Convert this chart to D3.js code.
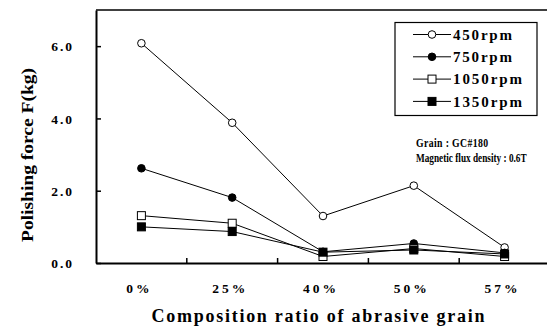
<!DOCTYPE html>
<html>
<head>
<meta charset="utf-8">
<script src="https://cdn.jsdelivr.net/npm/d3@7"></script>
<style>
  body { margin: 0; background: #fff; }
  text { font-family: "Liberation Serif", "Times New Roman", serif; font-weight: bold; fill: #000; }
</style>
</head>
<body>
<svg id="chart"></svg>
<script>
// composition ratio categories
var categories = ["0%", "25%", "40%", "50%", "57%"];

// polishing force (kg) per spindle speed
var rpm450  = [6.08, 3.88, 1.30, 2.14, 0.43];
var rpm750  = [2.62, 1.81, 0.31, 0.54, 0.28];
var rpm1050 = [1.31, 1.10, 0.18, 0.40, 0.18];
var rpm1350 = [1.00, 0.87, 0.30, 0.36, 0.25];

var seriesNames = ["450rpm", "750rpm", "1050rpm", "1350rpm"];
var yTicks = [0, 2, 4, 6];

var series = [
  {name: seriesNames[0], values: rpm450,  shape: "circle", fill: "#fff"},
  {name: seriesNames[1], values: rpm750,  shape: "circle", fill: "#000"},
  {name: seriesNames[2], values: rpm1050, shape: "square", fill: "#fff"},
  {name: seriesNames[3], values: rpm1350, shape: "square", fill: "#000"}
];

var screen = {width: 547, height: 331};
var margins = {top: 10, left: 96, bottom: 68, right: -3};

var svg = d3.select("#chart")
    .attr("width", screen.width)
    .attr("height", screen.height);

var xScale = d3.scaleBand()
    .domain(categories)
    .range([margins.left, screen.width - margins.right])
    .padding(0);

var yScale = d3.scaleLinear()
    .domain([0, 7])
    .range([screen.height - margins.bottom, margins.top]);

var cx = function(i) { return xScale(categories[i]) + xScale.bandwidth() / 2; };

// frame: top border
svg.append("line")
    .attr("x1", margins.left).attr("x2", screen.width)
    .attr("y1", yScale(7)).attr("y2", yScale(7))
    .style("stroke", "#000").style("stroke-width", 1.5);

// y axis
var yAxis = svg.append("g")
    .attr("transform", "translate(" + margins.left + ",0)")
    .call(d3.axisLeft(yScale).tickValues(yTicks).tickFormat(d3.format(".1f"))
        .tickSizeInner(-5).tickSizeOuter(0).tickPadding(22));
yAxis.select(".domain").style("stroke-width", 2);
yAxis.selectAll(".tick line").style("stroke-width", 1.5);
yAxis.selectAll("text")
    .style("font-size", "13.5px")
    .style("letter-spacing", "2px")
    .attr("dy", "0.35em");

// x axis
var xAxis = svg.append("g")
    .attr("transform", "translate(0," + yScale(0) + ")")
    .call(d3.axisBottom(xScale).tickSize(0).tickPadding(20));
xAxis.select(".domain").style("stroke-width", 2);
xAxis.selectAll("text")
    .style("font-size", "13.5px")
    .style("letter-spacing", "3px")
    .attr("dx", "-2")
    .attr("dy", "0.71em");

// x boundary ticks pointing inside
svg.selectAll(".xbound")
    .data(categories.slice(1))
    .enter()
    .append("line")
    .attr("class", "xbound")
    .attr("x1", function(d) { return xScale(d); })
    .attr("x2", function(d) { return xScale(d); })
    .attr("y1", yScale(0))
    .attr("y2", yScale(0) - 5)
    .style("stroke", "#000").style("stroke-width", 1.5);

// axis titles
svg.append("text")
    .attr("x", 318).attr("y", 322)
    .attr("text-anchor", "middle")
    .attr("textLength", 333)
    .attr("lengthAdjust", "spacing")
    .style("font-size", "18px")
    .text("Composition ratio of abrasive grain");

svg.append("text")
    .attr("transform", "translate(33,155) rotate(-90)")
    .attr("text-anchor", "middle")
    .attr("textLength", 174)
    .attr("lengthAdjust", "spacingAndGlyphs")
    .style("font-size", "16px")
    .text("Polishing force F(kg)");

var line = d3.line()
    .x(function(d, i) { return cx(i); })
    .y(function(d) { return yScale(d); });

var drawMarker = function(g, s, x, y) {
  if (s.shape == "circle") {
    g.append("circle")
      .attr("cx", x).attr("cy", y).attr("r", 3.8)
      .style("fill", s.fill).style("stroke", "#000").style("stroke-width", 1);
  } else {
    g.append("rect")
      .attr("x", x - 4).attr("y", y - 4).attr("width", 8).attr("height", 8)
      .style("fill", s.fill).style("stroke", "#000").style("stroke-width", 1);
  }
};

// lines first, then markers on top
series.forEach(function(s) {
  svg.append("path")
    .datum(s.values)
    .attr("d", line)
    .style("fill", "none")
    .style("stroke", "#000")
    .style("stroke-width", 1);
});
series.forEach(function(s) {
  var g = svg.append("g");
  s.values.forEach(function(v, i) {
    drawMarker(g, s, cx(i), yScale(v));
  });
});

// legend
var legend = svg.append("g");
legend.append("rect")
    .attr("x", 395).attr("y", 22.5).attr("width", 142).attr("height", 93)
    .style("fill", "#fff").style("stroke", "#000").style("stroke-width", 1.2);
series.forEach(function(s, i) {
  var y = 34.5 + i * 22.3;
  legend.append("line")
    .attr("x1", 413).attr("x2", 451).attr("y1", y).attr("y2", y)
    .style("stroke", "#000").style("stroke-width", 1);
  drawMarker(legend, s, 432, y);
  legend.append("text")
    .attr("x", 453).attr("y", y).attr("dy", "0.35em")
    .attr("textLength", s.name.length * 10 - 1)
    .attr("lengthAdjust", "spacing")
    .style("font-size", "15px")
    .text(s.name);
});

// annotation, horizontally condensed like the original
svg.append("text")
    .attr("transform", "translate(416,146.5) scale(0.78,1)")
    .style("font-size", "12.5px")
    .style("letter-spacing", "0.5px")
    .text("Grain : GC#180");
svg.append("text")
    .attr("transform", "translate(416,161.5) scale(0.74,1)")
    .style("font-size", "12.5px")
    .text("Magnetic flux density : 0.6T");
</script>
</body>
</html>
